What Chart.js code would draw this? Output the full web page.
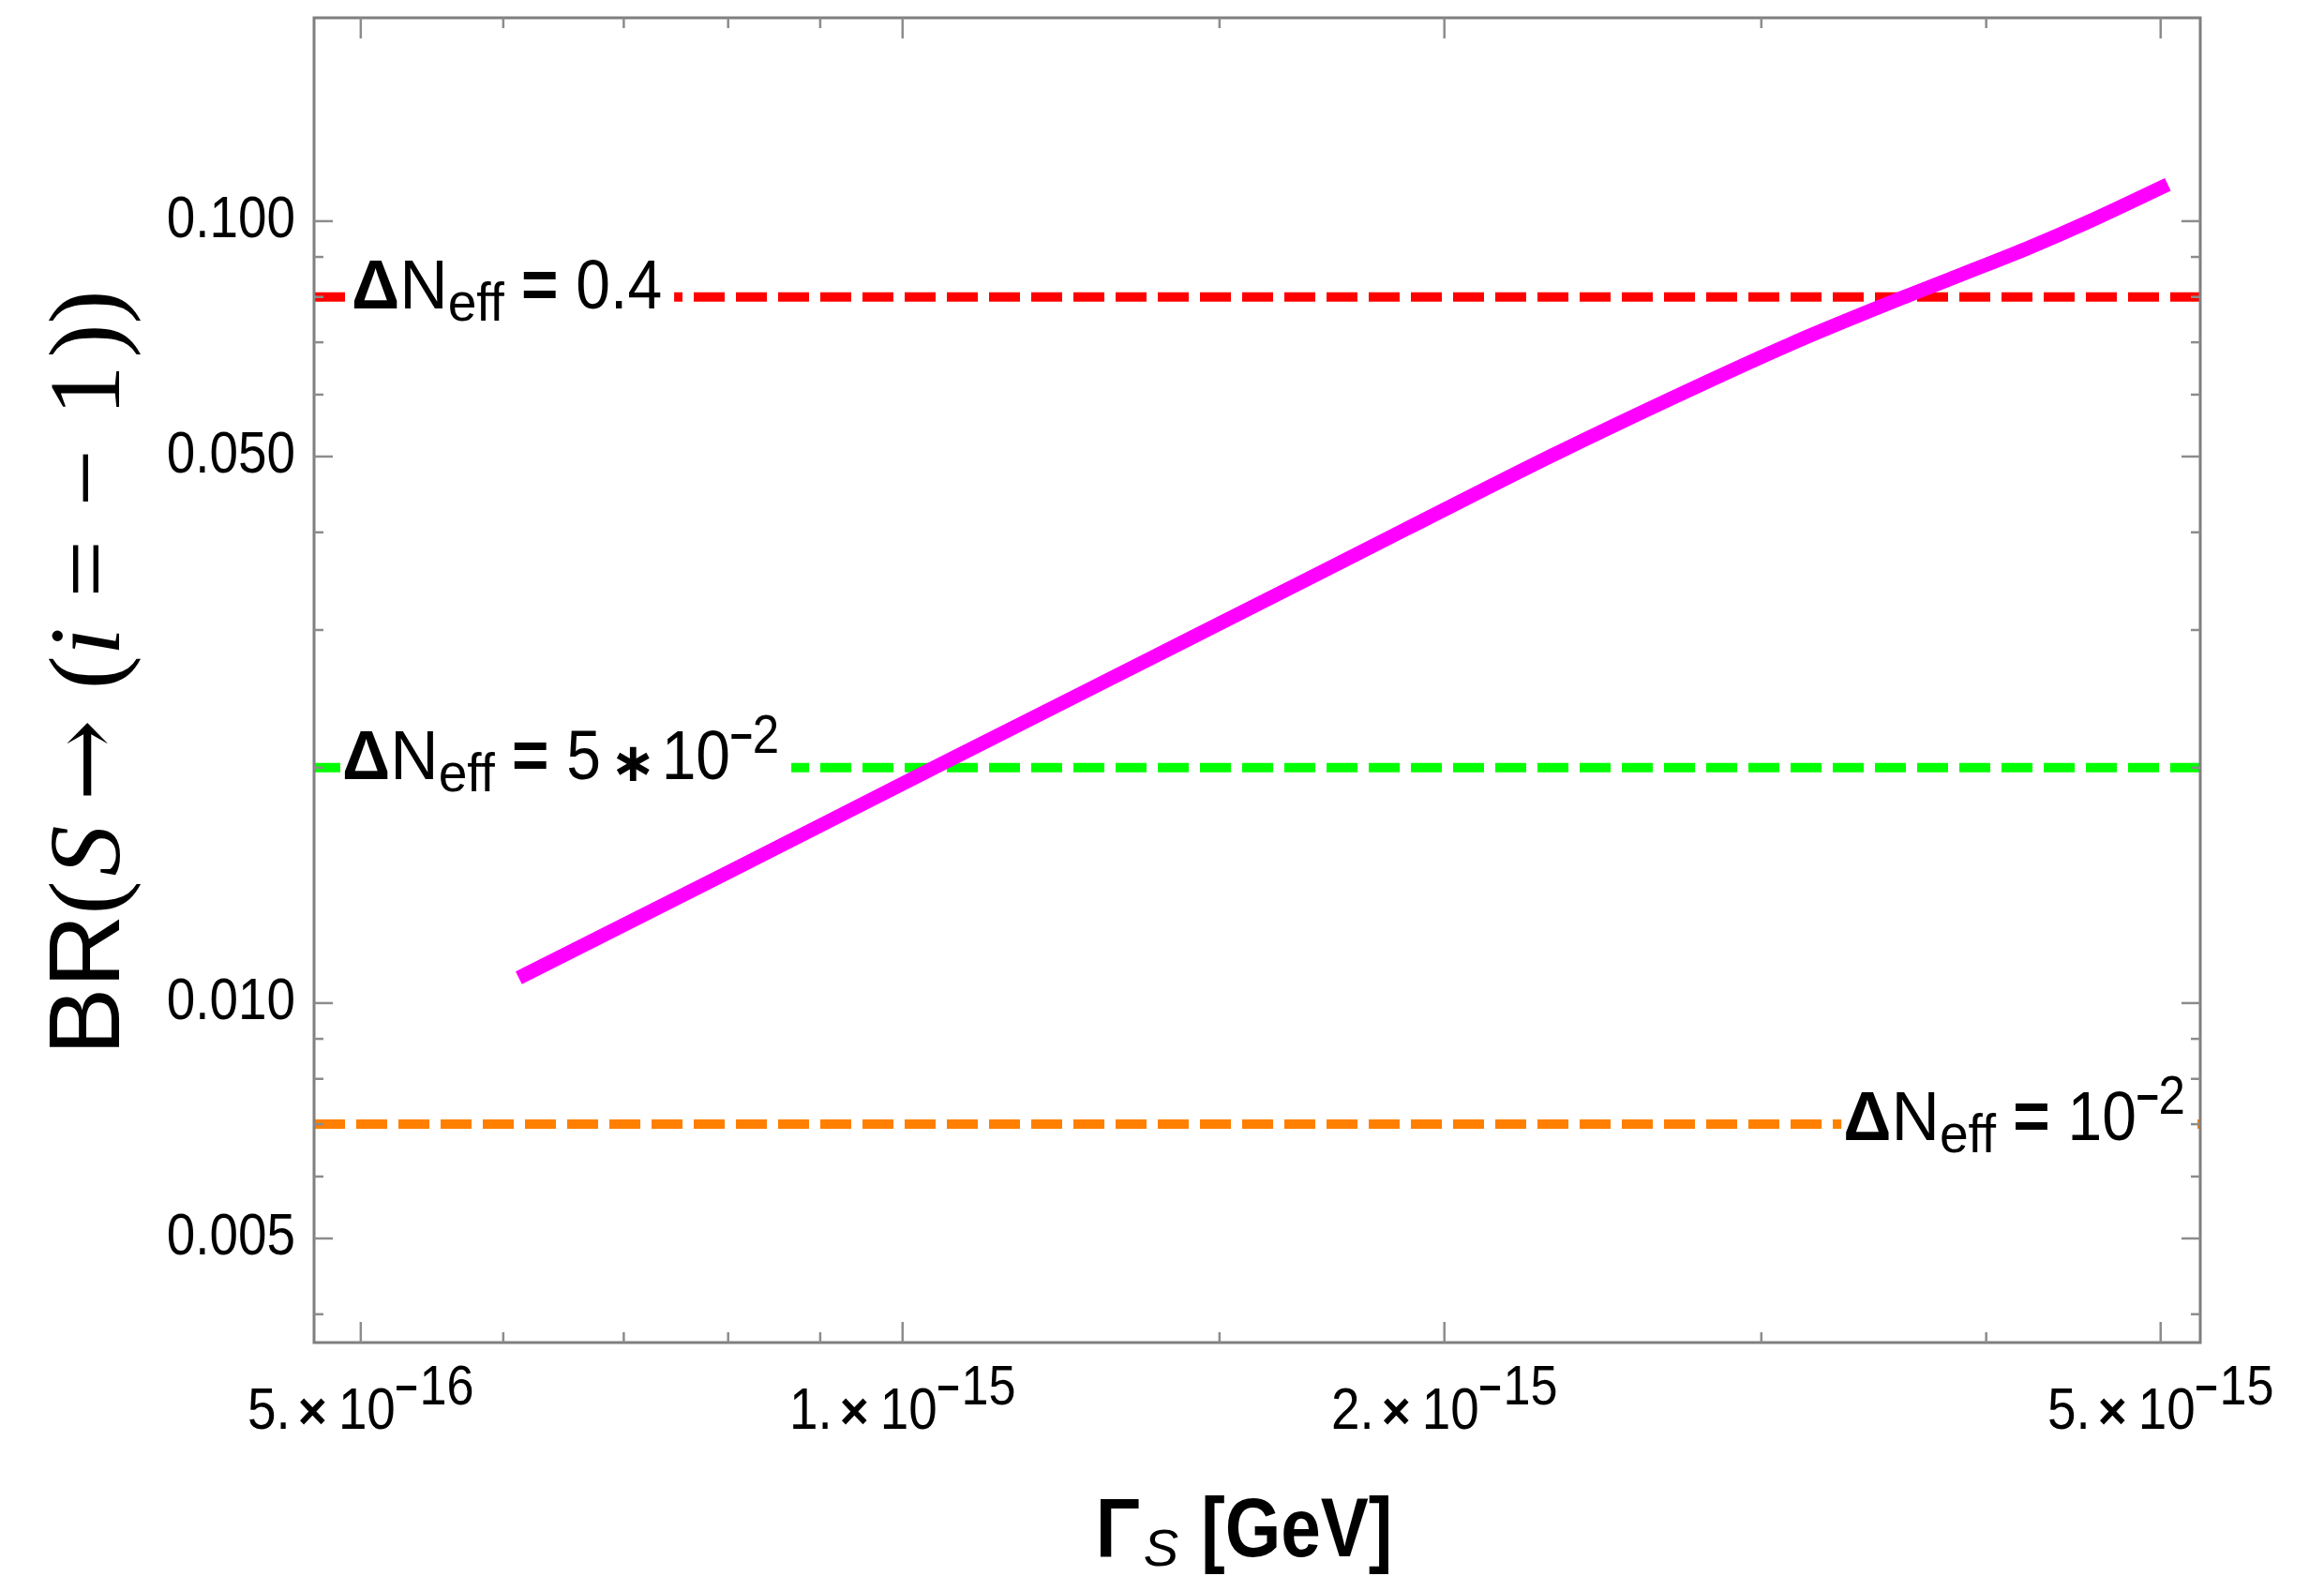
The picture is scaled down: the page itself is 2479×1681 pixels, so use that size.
<!DOCTYPE html>
<html>
<head>
<meta charset="utf-8">
<script src="https://cdn.jsdelivr.net/npm/chart.js@4.4.1/dist/chart.umd.min.js"></script>
<style>
  html, body { margin: 0; padding: 0; background: #fff; }
</style>
</head>
<body>
<canvas id="br-plot" width="2479" height="1681"></canvas>
<script>
// values
const gammaValues = [6.12e-16, 8.03e-16, 1.05e-15, 1.436e-15, 1.689e-15, 1.905e-15, 2.293e-15,
  2.672e-15, 3.113e-15, 3.63e-15, 3.917e-15, 4.227e-15, 4.564e-15, 5.046e-15];
const brValues = [0.01077, 0.01476, 0.0202, 0.02906, 0.0351, 0.0404, 0.0501,
  0.0593, 0.06963, 0.08055, 0.08628, 0.09253, 0.09993, 0.1114];

const boundValues = [0.08, 0.02, 0.007];
const boundColors = ["#ff0000", "#00ff00", "#ff8000"];

const xRange = [4.71e-16, 5.26e-15];
const yRange = [0.00368, 0.182];

const xMajorTicks = [5e-16, 1e-15, 2e-15, 5e-15];
const xTickMantissas = ["5.", "1.", "2.", "5."];
const xTickExponents = ["16", "15", "15", "15"];
const xMinorTicks = [6e-16, 7e-16, 8e-16, 9e-16, 1.5e-15, 3e-15, 4e-15];

const yMajorTicks = [0.005, 0.01, 0.05, 0.1];
const yTickLabels = ["0.005", "0.010", "0.050", "0.100"];
const yMinorTicks = [0.004, 0.006, 0.007, 0.008, 0.009, 0.02, 0.03, 0.04, 0.06, 0.07, 0.08, 0.09];

const SANS = "'Liberation Sans', Arial, sans-serif";
const SERIF = "'Liberation Serif', 'Times New Roman', serif";

const drawRich = (ctx, segs, x, y) => {
  let cx = x;
  for (const s of segs) {
    ctx.font = s.f;
    const sx = s.sx || 1;
    const w = ctx.measureText(s.t).width * sx;
    ctx.save();
    ctx.translate(cx, y + (s.dy || 0));
    ctx.scale(sx, 1);
    ctx.fillText(s.t, 0, 0);
    ctx.restore();
    cx += w + (s.gap || 0);
  }
  return cx - x;
};

const richWidth = (ctx, segs) => {
  let w = 0;
  for (const s of segs) {
    ctx.font = s.f;
    w += ctx.measureText(s.t).width * (s.sx || 1) + (s.gap || 0);
  }
  return w;
};

const neffSegs = (valueSegs) => [
  { t: "Δ", f: `bold 75px ${SANS}`, sx: 0.95 },
  { t: "N", f: `75px ${SANS}`, sx: 0.95 },
  { t: "eff", f: `58px ${SANS}`, sx: 0.95, dy: 13, gap: 18 },
  { t: "=", f: `bold 75px ${SANS}`, sx: 0.9, gap: 19 },
  ...valueSegs,
];

const supSegs = (exp) => [
  { t: "–", f: `bold 50px ${SANS}`, sx: 0.85, dy: -32 },
  { t: exp, f: `58px ${SANS}`, sx: 0.88, dy: -28 },
];

const boundLabels = [
  neffSegs([{ t: "0.4", f: `75px ${SANS}`, sx: 0.88 }]),
  neffSegs([
    { t: "5", f: `75px ${SANS}`, sx: 0.88, gap: 10 },
    { t: "∗", f: `bold 58px 'DejaVu Sans', sans-serif`, dy: 2, gap: 6 },
    { t: "10", f: `75px ${SANS}`, sx: 0.88 },
    ...supSegs("2"),
  ]),
  neffSegs([{ t: "10", f: `75px ${SANS}`, sx: 0.88 }, ...supSegs("2")]),
];

const framePlugin = {
  id: "frame",
  afterDatasetsDraw(chart) {
    const { ctx, chartArea: a, scales } = chart;
    const xs = scales.x, ys = scales.y;
    ctx.save();
    ctx.fillStyle = "#000";
    ctx.textBaseline = "alphabetic";

    // labels on the bound lines, with white boxes over the dashes
    boundValues.forEach((v, i) => {
      const py = ys.getPixelForValue(v);
      const segs = boundLabels[i];
      const w = richWidth(ctx, segs);
      let x0;
      if (i === 0) x0 = a.left + 40;
      else if (i === 1) x0 = a.left + 30;
      else x0 = a.right - 16 - w;
      ctx.fillStyle = "#fff";
      ctx.fillRect(x0 - 2, py - 9, w + 15, 18);
      ctx.fillStyle = "#000";
      const off = i === 2 ? 17 : 12;
      drawRich(ctx, segs, x0, py + off);
    });

    // frame
    ctx.strokeStyle = "#7f7f7f";
    ctx.lineWidth = 3;
    ctx.strokeRect(a.left, a.top, a.right - a.left, a.bottom - a.top);

    // ticks, all sides, pointing inward
    ctx.strokeStyle = "#8c8c8c";
    ctx.lineWidth = 2.5;
    const tick = (x1, y1, x2, y2) => {
      ctx.beginPath();
      ctx.moveTo(x1, y1);
      ctx.lineTo(x2, y2);
      ctx.stroke();
    };
    xMajorTicks.forEach((v) => {
      const px = xs.getPixelForValue(v);
      tick(px, a.bottom, px, a.bottom - 22);
      tick(px, a.top, px, a.top + 22);
    });
    xMinorTicks.forEach((v) => {
      const px = xs.getPixelForValue(v);
      tick(px, a.bottom, px, a.bottom - 11);
      tick(px, a.top, px, a.top + 11);
    });
    yMajorTicks.forEach((v) => {
      const py = ys.getPixelForValue(v);
      tick(a.left, py, a.left + 20, py);
      tick(a.right, py, a.right - 20, py);
    });
    yMinorTicks.forEach((v) => {
      const py = ys.getPixelForValue(v);
      tick(a.left, py, a.left + 10, py);
      tick(a.right, py, a.right - 10, py);
    });

    // y tick labels
    ctx.fillStyle = "#000";
    yMajorTicks.forEach((v, i) => {
      const py = ys.getPixelForValue(v);
      const segs = [{ t: yTickLabels[i], f: `63px ${SANS}`, sx: 0.87 }];
      const w = richWidth(ctx, segs);
      drawRich(ctx, segs, a.left - 20 - w, py + 17);
    });

    // x tick labels
    xMajorTicks.forEach((v, i) => {
      const px = xs.getPixelForValue(v);
      const segs = [
        { t: xTickMantissas[i], f: `63px ${SANS}`, sx: 0.87, gap: 8 },
        { t: "×", f: `bold 56px ${SANS}`, sx: 0.95, gap: 12 },
        { t: "10", f: `63px ${SANS}`, sx: 0.87 },
        { t: "–", f: `bold 50px ${SANS}`, sx: 0.85, dy: -30, gap: 2 },
        { t: xTickExponents[i], f: `60px ${SANS}`, sx: 0.87, dy: -26 },
      ];
      const w = richWidth(ctx, segs);
      drawRich(ctx, segs, px - w / 2, a.bottom + 92);
    });

    // x axis title
    const xt = [
      { t: "Γ", f: `bold 89px ${SANS}`, sx: 0.88, gap: 4 },
      { t: "S", f: `italic 56px ${SANS}`, dy: 10, gap: 24 },
      { t: "[GeV]", f: `bold 89px ${SANS}`, sx: 0.86 },
    ];
    const xtw = richWidth(ctx, xt);
    drawRich(ctx, xt, (a.left + a.right) / 2 - xtw / 2 - 14, a.bottom + 228);

    // y axis title, rotated
    const yt = [
      { t: "BR", f: `108px ${SANS}` },
      { t: "(", f: `108px ${SERIF}`, gap: 5 },
      { t: "S", f: `italic 108px ${SERIF}`, gap: 26 },
      { t: "→", f: `104px 'DejaVu Serif', serif`, gap: 32 },
      { t: "(", f: `108px ${SERIF}` },
      { t: "i", f: `italic 108px ${SERIF}`, gap: 32 },
      { t: "=", f: `108px ${SERIF}`, gap: 36 },
      { t: "−", f: `108px ${SERIF}`, gap: 36 },
      { t: "1", f: `108px ${SERIF}`, gap: 8 },
      { t: "))", f: `108px ${SERIF}` },
    ];
    const ytw = richWidth(ctx, yt);
    ctx.save();
    ctx.translate(127, (a.top + a.bottom) / 2 + ytw / 2 - 8);
    ctx.rotate(-Math.PI / 2);
    drawRich(ctx, yt, 0, 0);
    ctx.restore();

    ctx.restore();
  },
};

const drawBranchingPlot = () => {
  const ctx = document.getElementById("br-plot");

  const curve = gammaValues.map((g, i) => ({ x: g, y: brValues[i] }));
  const bounds = boundValues.map((v, i) => ({
    data: [
      { x: xRange[0], y: v },
      { x: xRange[1], y: v },
    ],
    showLine: true,
    borderColor: boundColors[i],
    borderWidth: 10,
    borderDash: [33, 12],
    pointRadius: 0,
  }));

  new Chart(ctx, {
    type: "scatter",
    data: {
      datasets: [
        {
          data: curve,
          showLine: true,
          borderColor: "#ff00ff",
          borderWidth: 15,
          pointRadius: 0,
          cubicInterpolationMode: "monotone",
        },
        ...bounds,
      ],
    },
    options: {
      responsive: false,
      animation: false,
      devicePixelRatio: 1,
      layout: { padding: { left: 335, right: 132, top: 19, bottom: 249 } },
      plugins: { legend: { display: false }, tooltip: { enabled: false } },
      scales: {
        x: { type: "logarithmic", min: xRange[0], max: xRange[1], display: false },
        y: { type: "logarithmic", min: yRange[0], max: yRange[1], display: false },
      },
    },
    plugins: [framePlugin],
  });
};

drawBranchingPlot();
</script>
</body>
</html>
